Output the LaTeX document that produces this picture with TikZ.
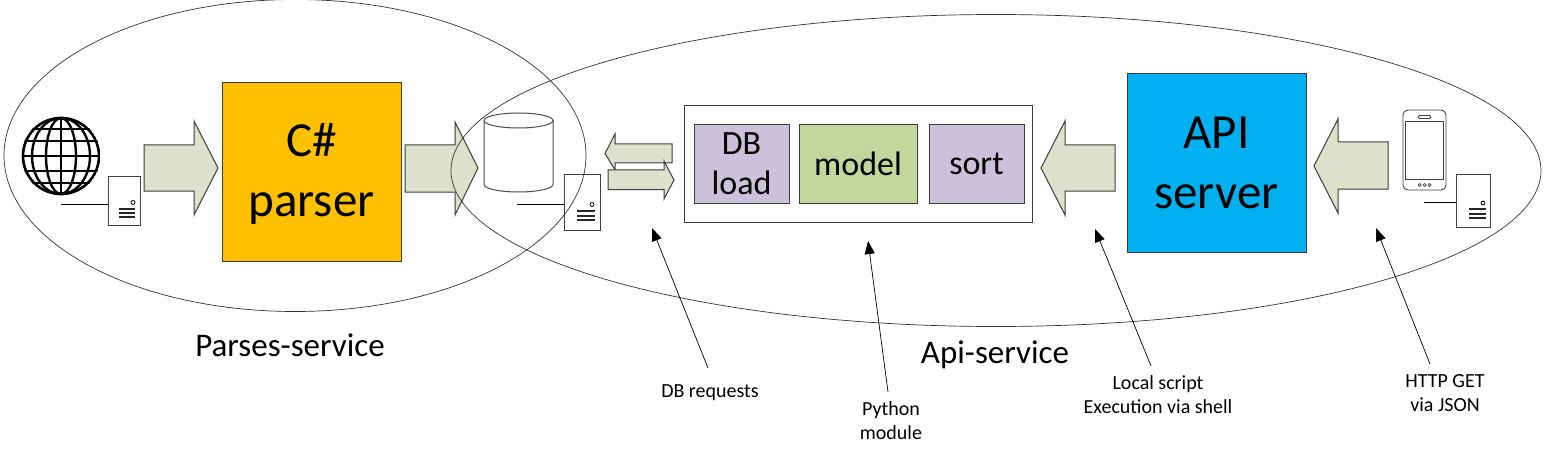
\documentclass[tikz,border=0pt]{standalone}
\usepackage{fontspec}
\setmainfont{Carlito}
\usetikzlibrary{arrows.meta}
\definecolor{blockarrow}{HTML}{DDE1CB}
\definecolor{lilac}{HTML}{CCC1DA}
\definecolor{leaf}{HTML}{C3D69B}
\definecolor{amber}{HTML}{FFC000}
\definecolor{sky}{HTML}{00B0F0}
\definecolor{edge}{HTML}{3C3C38}
\tikzset{
  flow/.style={fill=blockarrow,draw=edge,line width=1pt,line join=miter},
  bigbox/.style={draw=edge,line width=0.8pt,minimum width=179pt,minimum height=179pt,align=center,font=\fontsize{49}{60}\selectfont,inner sep=0pt},
  subbox/.style={draw=edge,line width=0.6pt,minimum height=79pt,align=center,font=\fontsize{34}{40}\selectfont,inner sep=0pt},
  bubble/.style={draw=black!80,line width=0.7pt},
  icon/.style={draw=black!75,line width=0.9pt,fill=white},
  wire/.style={draw=black,line width=0.8pt},
  leader/.style={draw=black,line width=0.7pt,-{Triangle[length=13pt,width=10pt]}},
  grouplabel/.style={font=\fontsize{33}{38}\selectfont,inner sep=0pt},
  note/.style={font=\fontsize{20}{24}\selectfont,align=center,inner sep=0pt}
}
\newcommand{\towerlines}[7]{%
  \draw[line width=2pt,draw=black!85] (#1,#3)--(#2,#3) (#1,#4)--(#2,#4) (#1,#5)--(#2,#5);
  \draw[line width=0.8pt] (#6,#7) circle (2pt);
}
\begin{document}
\begin{tikzpicture}[x=1pt,y=-1pt]
\useasboundingbox (0,0) rectangle (1545,476);
\fill[white] (0,0) rectangle (1545,476);

% main boxes
\node[bigbox,fill=amber,text height=0pt,text depth=0pt] (parser) at (311.5,171.5) {};
\node[font=\fontsize{49}{60}\selectfont,align=center,inner sep=0pt] (parsertext) at (311.5,174) {C\#\\parser};
\node[bigbox,fill=sky] (api) at (1216.5,163) {API\\server};
\node[draw=edge,line width=0.8pt,minimum width=348pt,minimum height=117pt,inner sep=0pt] (module) at (858,163.5) {};
\node[subbox,fill=lilac,minimum width=95pt] (dbload) at (741.5,163.5) {DB\\load};
\node[subbox,fill=leaf,minimum width=118pt] (model) at (858,163.5) {model};
\node[subbox,fill=lilac,minimum width=95pt] (sort) at (976.5,163.5) {sort};

% block arrows
\draw[flow] (144,145)--(194,145)--(194,121)--(218,168)--(194,215)--(194,191)--(144,191)--cycle;
\draw[flow] (405,145)--(455,145)--(455,122)--(478,168)--(455,215)--(455,192)--(405,192)--cycle;
\draw[flow] (1115,145)--(1065,145)--(1065,121)--(1041,168)--(1065,215)--(1065,191)--(1115,191)--cycle;
\draw[flow] (1388,142)--(1338,142)--(1338,119)--(1314,166)--(1338,213)--(1338,189)--(1388,189)--cycle;
\draw[flow] (672,144)--(615,144)--(615,134)--(605,153.5)--(615,170)--(615,163)--(672,163)--cycle;
\draw[flow] (608,170)--(664,170)--(664,161)--(674,180)--(664,199)--(664,189.5)--(608,189.5)--cycle;

% globe
\begin{scope}[shift={(61,156)}]
  \clip (0,0) circle (39.5pt);
  \draw[line width=2.6pt] (0,0) circle (38pt);
  \draw[line width=2.4pt] (0,-38)--(0,38) (-38,0)--(38,0);
  \draw[line width=2.4pt] (-38,-15)--(38,-15) (-38,15)--(38,15);
  \draw[line width=2.4pt] (-37,-27)--(37,-27) (-37,27)--(37,27);
  \draw[line width=2.4pt] (0,0) ellipse (15pt and 38pt);
  \draw[line width=2.4pt] (0,0) ellipse (29pt and 38pt);
\end{scope}

% database
\draw[draw=black!70,line width=1pt,fill=white] (484,120.5)--(484,184.5) arc[start angle=180,end angle=360,x radius=34.5pt,y radius=7.5pt]--(553,120.5);
\draw[draw=black!70,line width=1pt,fill=white] (518.5,120.5) ellipse (34.5pt and 7.5pt);

% phone
\draw[icon,rounded corners=5pt] (1403,110)--(1446,110)--(1446,190)--(1403,190)--cycle;
\draw[icon] (1405.5,121.5) rectangle (1443.5,179.5);
\draw[icon,rounded corners=1.5pt] (1418,115.5) rectangle (1431,118.5);
\foreach \dx in {1419.5,1424.5,1429.5} \draw[draw=black!75,line width=0.7pt] (\dx,185) circle (1.5pt);

% servers
\node[icon,minimum width=32pt,minimum height=49pt,inner sep=0pt] (srvA) at (124,200.5) {};
\coordinate (wireA) at (61,204.5);
\draw[wire] (wireA)--(wireA-|srvA.west);
\towerlines{119}{135}{208.5}{212.5}{216.5}{133}{202.5}
\node[icon,minimum width=36pt,minimum height=56pt,inner sep=0pt] (srvB) at (582,202) {};
\coordinate (wireB) at (517,204.5);
\draw[wire] (wireB)--(wireB-|srvB.west);
\towerlines{577}{595}{211}{215.5}{220}{592}{204.5}
\node[icon,minimum width=34pt,minimum height=53pt,inner sep=0pt] (srvC) at (1473,200.5) {};
\coordinate (wireC) at (1424,202.5);
\draw[wire] (wireC)--(wireC-|srvC.west);
\towerlines{1469}{1486}{209}{213.5}{218}{1483}{203}

% service ellipses
\draw[bubble] (295,155.5) ellipse (291pt and 156pt);
\draw[bubble] (996,170.5) ellipse (545pt and 156pt);

% labels
\node[grouplabel] (parsesservice) at (290,345) {Parses-service};
\node[grouplabel] (apiservice) at (995,355) {Api-service};
\node[note] (dbreq) at (710,393) {DB requests};
\node[note] (pymod) at (891,421) {Python\\module};
\node[note] (local) at (1158,395) {Local script\\Execution via shell};
\node[note] (http) at (1445,393) {HTTP GET\\via JSON};

% leaders
\coordinate (tipDb) at (652,228);
\coordinate (tipPy) at (868,241);
\coordinate (tipLocal) at (1095,229);
\coordinate (tipHttp) at (1376,228);
\coordinate (fromDb) at (708,368);
\coordinate (fromPy) at (888,392);
\coordinate (fromLocal) at (1151,366);
\coordinate (fromHttp) at (1430,364);
\draw[leader] (fromDb)--(tipDb);
\draw[leader] (fromPy)--(tipPy);
\draw[leader] (fromLocal)--(tipLocal);
\draw[leader] (fromHttp)--(tipHttp);
\end{tikzpicture}
\end{document}
